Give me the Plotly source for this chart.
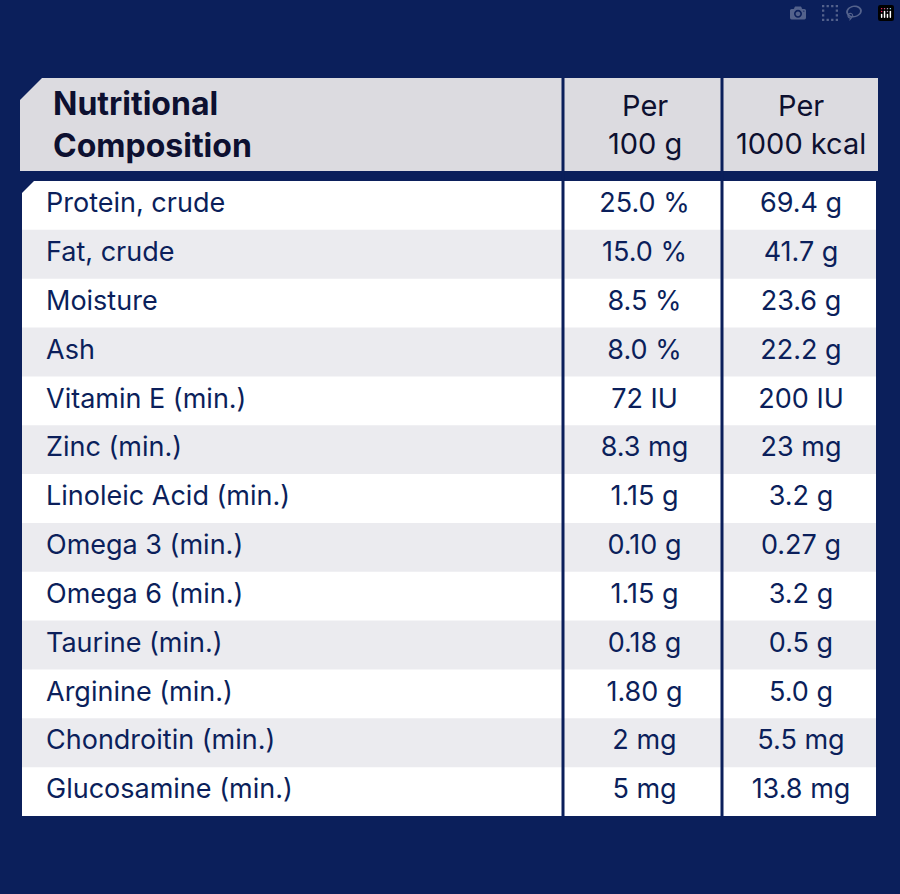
import plotly.graph_objects as go

NAVY = "#0b1f5b"
HEADER_BG = "#dcdbe0"
ALT_BG = "#ebebef"

headers = ["Nutritional<br>Composition", "Per<br>100 g", "Per<br>1000 kcal"]
nutrients = ["Protein, crude", "Fat, crude", "Moisture", "Ash", "Vitamin E (min.)",
             "Zinc (min.)", "Linoleic Acid (min.)", "Omega 3 (min.)", "Omega 6 (min.)",
             "Taurine (min.)", "Arginine (min.)", "Chondroitin (min.)", "Glucosamine (min.)"]
per_100g = ["25.0 %", "15.0 %", "8.5 %", "8.0 %", "72 IU", "8.3 mg", "1.15 g",
            "0.10 g", "1.15 g", "0.18 g", "1.80 g", "2 mg", "5 mg"]
per_1000kcal = ["69.4 g", "41.7 g", "23.6 g", "22.2 g", "200 IU", "23 mg", "3.2 g",
                "0.27 g", "3.2 g", "0.5 g", "5.0 g", "5.5 mg", "13.8 mg"]

# pixel layout
X0, X1, X2, X3 = 20, 563, 722, 878
HY0, HY1 = 78, 171
BY0, BY1 = 181, 816
n = len(nutrients)
rh = (BY1 - BY0) / n
C1 = (X1 + X2) / 2 + 2
C2 = (X2 + X3) / 2 + 1

shapes = [
    dict(type="path", path=f"M{X0},{HY0+22} L{X0+22},{HY0} L{X3},{HY0} L{X3},{HY1} L{X0},{HY1} Z",
         fillcolor=HEADER_BG, line=dict(width=0), layer="below"),
]
for i in range(n):
    y0 = BY0 + i * rh
    y1 = y0 + rh + (1 if i < n - 1 else 0)
    fill = "white" if i % 2 == 0 else ALT_BG
    if i == 0:
        path = f"M22,{y0+12} L34,{y0} L876,{y0} L876,{y1} L22,{y1} Z"
    else:
        path = f"M22,{y0} L876,{y0} L876,{y1} L22,{y1} Z"
    shapes.append(dict(type="path", path=path, fillcolor=fill, line=dict(width=0), layer="below"))
for xd in (X1, X2):
    shapes.append(dict(type="line", x0=xd, x1=xd, y0=HY0, y1=BY1, line=dict(color=NAVY, width=3)))

fig = go.Figure()
ys = [BY0 + (i + 0.5) * rh for i in range(n)]
body_font = dict(family="Inter, Lato, sans-serif", size=27, color=NAVY)
fig.add_trace(go.Scatter(x=[46] * n, y=ys, text=nutrients, mode="text",
                         textposition="middle right", textfont=body_font, hoverinfo="skip"))
fig.add_trace(go.Scatter(x=[C1] * n, y=ys, text=per_100g, mode="text",
                         textposition="middle center", textfont=body_font, hoverinfo="skip"))
fig.add_trace(go.Scatter(x=[C2] * n, y=ys, text=per_1000kcal, mode="text",
                         textposition="middle center", textfont=body_font, hoverinfo="skip"))

hy = (HY0 + HY1) / 2
annotations = [
    dict(x=51, y=hy, text=f"<b>{headers[0]}</b>", xanchor="left", align="left",
         font=dict(family="Inter, sans-serif", size=32, color="#0d1030")),
    dict(x=C1, y=hy, text=headers[1], xanchor="center", align="center",
         font=dict(family="Inter, sans-serif", size=29, color="#0d1030")),
    dict(x=C2, y=hy, text=headers[2], xanchor="center", align="center",
         font=dict(family="Inter, sans-serif", size=29, color="#0d1030")),
]
for a in annotations:
    a.update(xref="x", yref="y", showarrow=False, yanchor="middle")

fig.update_layout(
    width=900, height=894, margin=dict(l=0, r=0, t=0, b=0),
    paper_bgcolor=NAVY, plot_bgcolor=NAVY, showlegend=False,
    xaxis=dict(range=[0, 900], visible=False, fixedrange=True),
    yaxis=dict(range=[894, 0], visible=False, fixedrange=True),
    shapes=shapes, annotations=annotations,
)
fig.write_html("out.html", post_script="document.body.style.margin='0';document.body.style.overflow='hidden';")
